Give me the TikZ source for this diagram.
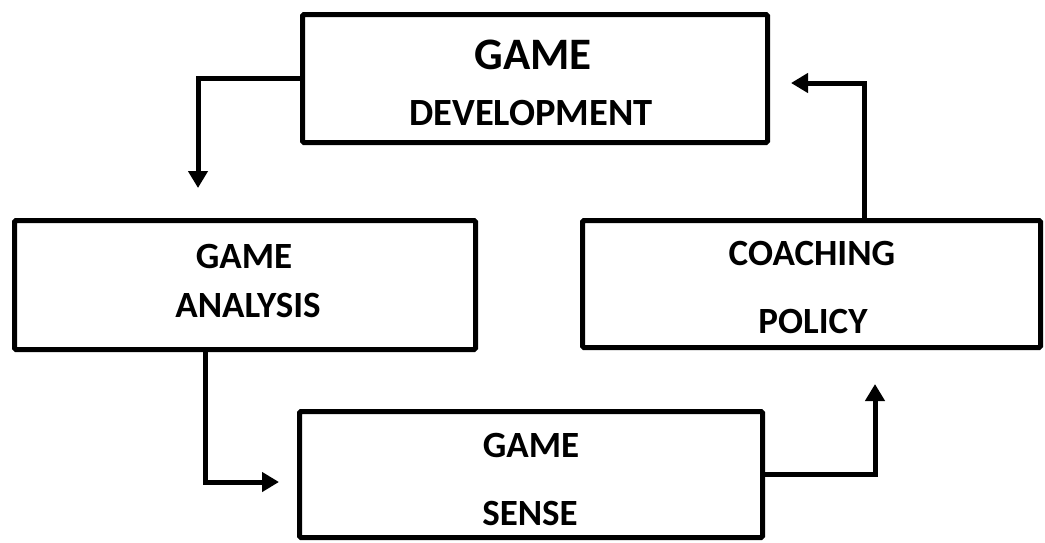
\documentclass[tikz,border=0pt]{standalone}
\usepackage{fontspec}
\setmainfont{Carlito}
\usetikzlibrary{arrows.meta}
\begin{document}
\begin{tikzpicture}[x=1pt,y=-1pt,
  box/.style={draw=black,line width=5pt,rounded corners=1.5pt,fill=white,inner sep=0pt},
  lbl/.style={anchor=base,inner sep=0pt,font=\bfseries\fontsize{37}{40}\selectfont},
  conn/.style={draw=black,line width=5pt,-{Triangle[length=17pt,width=19pt]}}]
\useasboundingbox (0,0) rectangle (1045,542);
\fill[white] (0,0) rectangle (1045,542);
% boxes
\node[box,minimum width=465pt,minimum height=128pt] (gd) at (535,78.5) {};
\node[box,minimum width=461pt,minimum height=129pt] (ga) at (245,285) {};
\node[box,minimum width=458pt,minimum height=127pt] (cp) at (811.5,284) {};
\node[box,minimum width=463pt,minimum height=126pt] (gs) at (531,474.5) {};
% labels
\node[lbl,font=\bfseries\fontsize{45}{48}\selectfont] (gd1) at (533,69) {GAME};
\node[lbl,font=\bfseries\fontsize{38.5}{40}\selectfont] (gd2) at (531,125) {DEVELOPMENT};
\node[lbl] (ga1) at (244,268) {GAME};
\node[lbl] (ga2) at (248,317) {ANALYSIS};
\node[lbl] (cp1) at (812,265) {COACHING};
\node[lbl] (cp2) at (813,333) {POLICY};
\node[lbl] (gs1) at (531,457) {GAME};
\node[lbl] (gs2) at (530,525) {SENSE};
% connector ends
\coordinate (t1) at (198,188);
\coordinate (t2) at (279,482);
\coordinate (t3) at (875,384);
\coordinate (t4) at (791,83);
\coordinate (c2) at (205,482);
\coordinate (c4) at (864,83);
% connectors
\draw[conn] (gd.west) -| (t1);
\draw[conn] (c2 |- ga.south) |- (t2);
\draw[conn] (gs.east) -| (t3);
\draw[conn] (c4 |- cp.north) |- (t4);
\end{tikzpicture}
\end{document}
